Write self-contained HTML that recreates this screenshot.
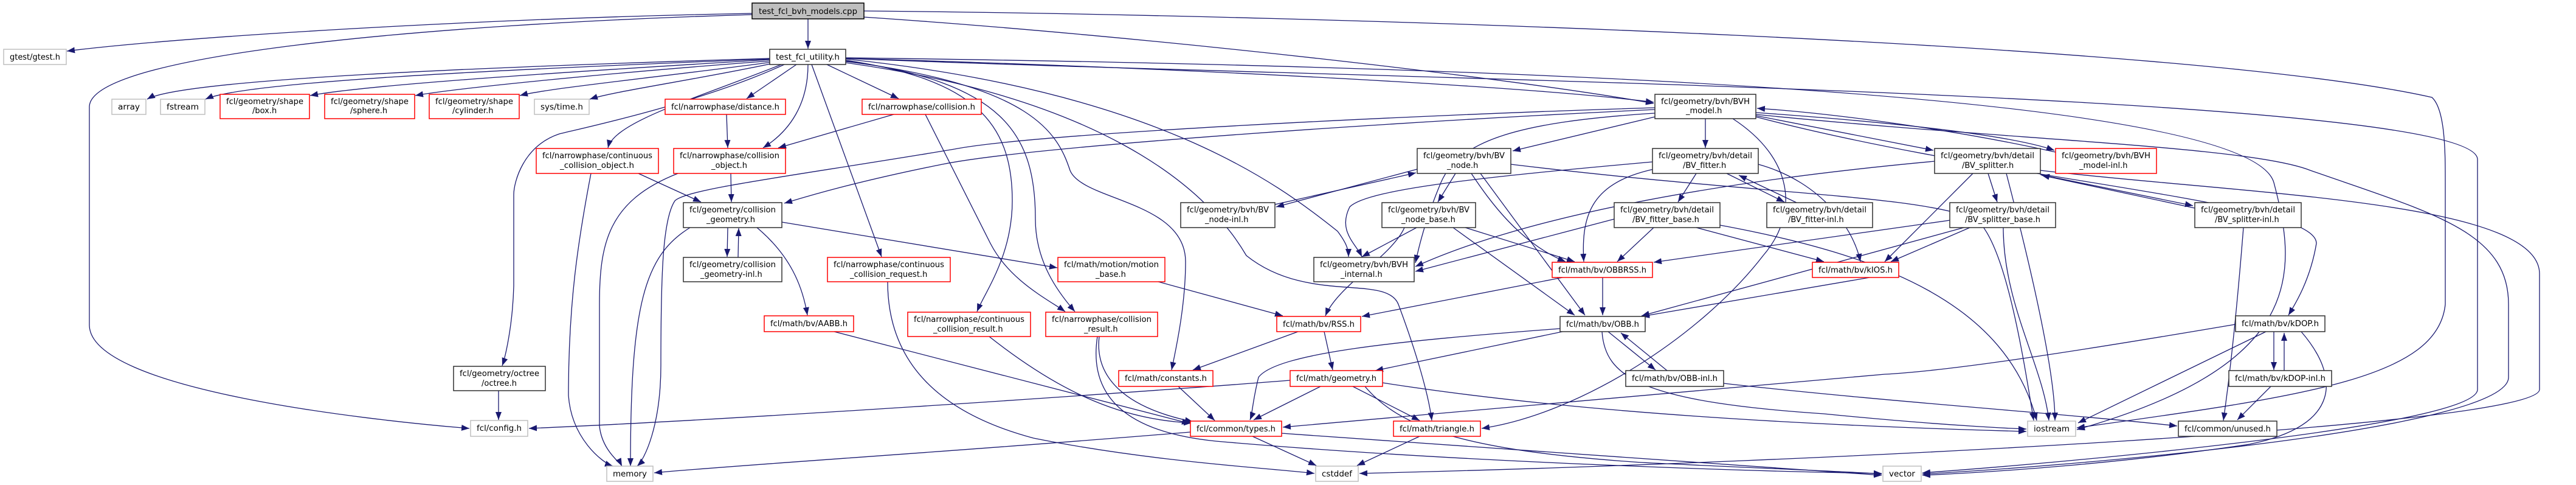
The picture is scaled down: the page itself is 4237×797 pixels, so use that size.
<!DOCTYPE html>
<html><head><meta charset="utf-8"><style>
html,body{margin:0;padding:0;background:#fff;}
svg{display:block;}
text{font-family:"DejaVu Sans","Liberation Sans",sans-serif;font-size:13px;fill:#000;}
.e{fill:none;stroke:#191970;stroke-width:1.3;marker-end:url(#a);}
.r{fill:#fff;stroke:#ff0000;stroke-width:1.5;}
.b{fill:#fff;stroke:#303030;stroke-width:1.5;}
.g{fill:#fff;stroke:#bfbfbf;stroke-width:1.5;}
</style></head><body>
<svg width="4237" height="797" viewBox="0 0 4237 797" xmlns="http://www.w3.org/2000/svg">
<defs><marker id="a" markerUnits="userSpaceOnUse" markerWidth="14" markerHeight="10" refX="13" refY="5" orient="auto"><path d="M0,0 L13,5 L0,10 z" fill="#191970"/></marker></defs>
<g>
<!-- root edges -->
<path class="e" d="M1238,22 C800,30 300,60 110,84"/>
<path class="e" d="M1238,24 C700,40 150,90 147,175 L147,535 C150,640 600,690 772,704"/>
<path class="e" d="M1329,31 L1329,80"/>
<path class="e" d="M1420,28 C1900,60 2500,130 2720,170"/>
<path class="e" d="M1420,18 C2200,25 3600,70 4000,160 C4022,180 4022,250 4022,300 L4022,500 C4010,620 3800,650 3416,703"/>
<!-- utility edges -->
<path class="e" d="M1266,96 C800,110 300,130 242,163"/>
<path class="e" d="M1266,97 C800,115 400,135 338,163"/>
<path class="e" d="M1266,98 C900,120 600,140 510,157"/>
<path class="e" d="M1268,100 C1000,120 750,145 683,157"/>
<path class="e" d="M1270,102 C1100,125 900,145 855,157"/>
<path class="e" d="M1272,104 C1150,130 1010,150 970,163"/>
<path class="e" d="M1285,106 C1150,160 1010,200 1000,243"/>
<path class="e" d="M1290,106 C1150,170 960,210 920,220 C860,240 845,300 845,320 L845,470 C843,540 830,590 826,601"/>
<path class="e" d="M1310,106 L1228,162"/>
<path class="e" d="M1329,106 C1329,170 1300,215 1255,243"/>
<path class="e" d="M1360,106 L1478,162"/>
<path class="e" d="M1335,106 L1450,422"/>
<path class="e" d="M1391,99 C1600,130 1665,200 1665,330 C1665,420 1620,480 1607,512"/>
<path class="e" d="M1391,100 C1650,135 1703,220 1703,360 C1703,430 1740,480 1768,512"/>
<path class="e" d="M1391,101 C1700,140 1740,220 1760,280 C1780,330 1950,330 1950,430 C1950,500 1935,570 1927,608"/>
<path class="e" d="M1391,103 C1800,160 1980,300 2050,420 C2150,500 2280,450 2300,500 C2330,580 2350,650 2355,691"/>
<path class="e" d="M1391,97 C1900,150 2100,300 2200,380 C2215,400 2218,410 2218,422"/>
<path class="e" d="M1391,96 C1900,110 2500,140 2720,168"/>
<path class="e" d="M1391,95 C2600,110 3700,160 3740,300 C3780,450 3790,600 3416,706"/>
<path class="e" d="M1391,96 C2200,130 4075,150 4075,262 L4075,640 C4075,700 3400,760 3162,777"/>
<!-- narrowphase / geometry -->
<path class="e" d="M972,285 C950,400 935,500 935,650 C940,720 990,760 1008,766"/>
<path class="e" d="M1115,285 C1000,330 986,400 986,500 L986,700 C990,740 1020,760 1023,766"/>
<path class="e" d="M1135,374 C1060,420 1037,500 1037,766"/>
<path class="e" d="M2722,177 C2300,190 1700,220 1570,245 C1300,290 1130,310 1110,330 C1090,360 1087,450 1087,600 C1087,700 1060,755 1048,766"/>
<path class="e" d="M2722,180 C2300,200 1700,240 1550,270 C1400,300 1320,325 1290,334"/>
<path class="e" d="M820,642 L820,690"/>
<path class="e" d="M2122,625 C1800,650 1200,690 870,704"/>
<path class="e" d="M1958,710 C1600,740 1200,765 1076,777"/>
<path class="e" d="M1460,463 C1460,600 1550,680 1700,720 C1900,760 2100,770 2162,778"/>
<path class="e" d="M1372,545 L1957,696"/>
<path class="e" d="M1627,553 C1750,650 1850,690 1960,695"/>
<path class="e" d="M1808,553 C1800,620 1850,670 1962,693"/>
<path class="e" d="M1805,553 C1790,650 1850,710 2000,725 C2400,760 2900,775 3095,778"/>
<path class="e" d="M1938,635 L1998,691"/>
<path class="e" d="M1905,463 L2110,519"/>
<path class="e" d="M1286,365 L1739,440"/>
<path class="e" d="M1202,285 L1203,332"/>
<path class="e" d="M1195,188 L1197,243"/>
<path class="e" d="M1470,188 L1280,243"/>
<path class="e" d="M1050,285 L1153,332"/>
<path class="e" d="M1522,188 L1629,400 C1660,460 1720,490 1752,512"/>
<path class="e" d="M1197,374 L1196,422"/>
<path class="e" d="M1214,423 L1215,375"/>
<path class="e" d="M1245,374 C1300,420 1320,470 1328,518"/>
<!-- BVH model -->
<path class="e" d="M2722,192 L2488,248"/>
<path class="e" d="M2805,195 L2805,243"/>
<path class="e" d="M2888,190 L3180,247"/>
<path class="e" d="M2888,185 C3100,200 3300,220 3379,247"/>
<path class="e" d="M3381,250 C3200,210 3000,185 2890,178"/>
<path class="e" d="M2888,192 C3300,300 3810,330 3810,400 C3800,460 3775,500 3764,518"/>
<path class="e" d="M2850,195 C2950,260 2960,350 2900,420 C2800,550 2600,680 2437,704"/>
<path class="e" d="M2888,188 C3300,230 3700,240 3800,280 C4000,350 4126,380 4126,500 L4126,620 C4126,700 3500,760 3162,779"/>
<path class="e" d="M2722,186 C2500,200 2400,230 2370,300 C2345,360 2335,400 2328,432"/>
<!-- BV node -->
<path class="e" d="M2331,278 L2099,340"/>
<path class="e" d="M2097,336 L2329,284"/>
<path class="e" d="M2394,285 L2365,332"/>
<path class="e" d="M2420,285 C2450,330 2500,400 2575,430"/>
<path class="e" d="M2435,285 L2607,518"/>
<path class="e" d="M2485,270 C2900,320 3150,320 3250,360 C3300,400 3330,600 3345,691"/>
<path class="e" d="M2330,374 L2240,422"/>
<path class="e" d="M2390,374 L2590,518"/>
<path class="e" d="M2310,374 C2290,420 2200,470 2180,519"/>
<path class="e" d="M2410,374 L2590,430"/>
<!-- BV fitter -->
<path class="e" d="M2790,285 L2760,332"/>
<path class="e" d="M2840,285 L2935,332"/>
<path class="e" d="M2955,333 L2860,288"/>
<path class="e" d="M2718,266 C2450,290 2250,310 2220,340 C2200,380 2230,400 2240,422"/>
<path class="e" d="M2720,278 C2620,300 2600,350 2605,430"/>
<path class="e" d="M2892,270 C3000,300 3050,380 3060,430"/>
<path class="e" d="M2720,374 L2660,430"/>
<path class="e" d="M2790,374 L3000,430"/>
<path class="e" d="M2655,360 L2328,446"/>
<path class="e" d="M2829,370 C3100,420 3300,500 3350,691"/>
<!-- BV splitter -->
<path class="e" d="M3270,285 L3285,332"/>
<path class="e" d="M3356,287 L3607,338"/>
<path class="e" d="M3610,342 L3358,288"/>
<path class="e" d="M3245,285 L3100,430"/>
<path class="e" d="M3182,265 C2800,300 2500,360 2328,438"/>
<path class="e" d="M3300,285 C3330,400 3380,600 3380,691"/>
<path class="e" d="M3356,280 C3700,320 4177,330 4177,450 L4177,640 C4177,700 3000,760 2236,778"/>
<path class="e" d="M3207,362 L2720,431"/>
<path class="e" d="M3240,374 L3110,430"/>
<path class="e" d="M3230,374 L2700,519"/>
<path class="e" d="M3295,374 C3295,500 3360,600 3370,691"/>
<path class="e" d="M3690,374 C3680,500 3670,600 3657,691"/>
<!-- bv -->
<path class="e" d="M2636,456 L2636,518"/>
<path class="e" d="M2570,456 L2240,520"/>
<path class="e" d="M3075,456 L2700,520"/>
<path class="e" d="M2645,545 L2723,608"/>
<path class="e" d="M2742,609 L2666,547"/>
<path class="e" d="M2570,545 L2262,609"/>
<path class="e" d="M2566,540 C2300,560 2100,580 2070,620 C2060,660 2060,680 2056,690"/>
<path class="e" d="M2635,545 C2640,620 2700,660 3000,680 C3200,700 3330,705 3333,705"/>
<path class="e" d="M2835,630 C3100,660 3400,680 3581,700"/>
<path class="e" d="M2178,545 L2192,608"/>
<path class="e" d="M2135,545 L1962,608"/>
<path class="e" d="M2172,635 L2062,690"/>
<path class="e" d="M2225,635 L2335,691"/>
<path class="e" d="M2245,635 C2300,700 2400,740 2700,760 C2900,770 3050,775 3095,779"/>
<path class="e" d="M2274,629 C2600,680 3000,700 3333,709"/>
<path class="e" d="M2060,717 L2165,765"/>
<path class="e" d="M2108,712 C2500,740 2900,770 3095,781"/>
<path class="e" d="M2335,717 L2232,765"/>
<path class="e" d="M3740,545 L3740,608"/>
<path class="e" d="M3757,609 L3757,547"/>
<path class="e" d="M3727,545 L3418,695"/>
<path class="e" d="M3735,635 L3680,690"/>
<path class="e" d="M3677,533 C3400,580 3200,610 3100,615 L2110,702"/>
<path class="e" d="M3785,545 C3850,620 3850,700 3700,730 C3500,760 3300,775 3162,781"/>
</g>
<g>
<rect x="1237" y="5" width="184" height="26" fill="#bfbfbf" stroke="#000" stroke-width="1.5"/>
<text x="1248" y="23" textLength="162" lengthAdjust="spacingAndGlyphs">test_fcl_bvh_models.cpp</text>
<rect class="b" x="1266" y="81" width="125" height="25"/><text x="1276" y="98" textLength="105" lengthAdjust="spacingAndGlyphs">test_fcl_utility.h</text>
<rect class="g" x="6" y="81" width="103" height="25"/><text x="16" y="98" textLength="83" lengthAdjust="spacingAndGlyphs">gtest/gtest.h</text>
<rect class="g" x="184" y="163" width="56" height="25"/><text x="194" y="180" textLength="36" lengthAdjust="spacingAndGlyphs">array</text>
<rect class="g" x="264" y="163" width="73" height="25"/><text x="274" y="180" textLength="53" lengthAdjust="spacingAndGlyphs">fstream</text>
<rect class="r" x="362" y="155" width="147" height="40"/><text x="372" y="171" textLength="127" lengthAdjust="spacingAndGlyphs">fcl/geometry/shape</text><text x="415" y="186">/box.h</text>
<rect class="r" x="534" y="155" width="148" height="40"/><text x="544" y="171" textLength="128" lengthAdjust="spacingAndGlyphs">fcl/geometry/shape</text><text x="576" y="186">/sphere.h</text>
<rect class="r" x="706" y="155" width="148" height="40"/><text x="716" y="171" textLength="128" lengthAdjust="spacingAndGlyphs">fcl/geometry/shape</text><text x="744" y="186">/cylinder.h</text>
<rect class="g" x="879" y="163" width="90" height="25"/><text x="889" y="180" textLength="70" lengthAdjust="spacingAndGlyphs">sys/time.h</text>
<rect class="r" x="1094" y="163" width="198" height="25"/><text x="1104" y="180" textLength="178" lengthAdjust="spacingAndGlyphs">fcl/narrowphase/distance.h</text>
<rect class="r" x="1418" y="163" width="196" height="25"/><text x="1428" y="180" textLength="176" lengthAdjust="spacingAndGlyphs">fcl/narrowphase/collision.h</text>
<rect class="b" x="2722" y="155" width="166" height="40"/><text x="2732" y="171" textLength="146" lengthAdjust="spacingAndGlyphs">fcl/geometry/bvh/BVH</text><text x="2773" y="186">_model.h</text>
<rect class="r" x="882" y="244" width="201" height="41"/><text x="892" y="260" textLength="181" lengthAdjust="spacingAndGlyphs">fcl/narrowphase/continuous</text><text x="921" y="276" textLength="122" lengthAdjust="spacingAndGlyphs">_collision_object.h</text>
<rect class="r" x="1108" y="244" width="184" height="41"/><text x="1118" y="260" textLength="164" lengthAdjust="spacingAndGlyphs">fcl/narrowphase/collision</text><text x="1170" y="276">_object.h</text>
<rect class="b" x="2331" y="244" width="154" height="41"/><text x="2341" y="260" textLength="134" lengthAdjust="spacingAndGlyphs">fcl/geometry/bvh/BV</text><text x="2380" y="276">_node.h</text>
<rect class="b" x="2718" y="244" width="174" height="41"/><text x="2728" y="260" textLength="154" lengthAdjust="spacingAndGlyphs">fcl/geometry/bvh/detail</text><text x="2768" y="276">/BV_fitter.h</text>
<rect class="b" x="3182" y="244" width="174" height="41"/><text x="3192" y="260" textLength="154" lengthAdjust="spacingAndGlyphs">fcl/geometry/bvh/detail</text><text x="3227" y="276">/BV_splitter.h</text>
<rect class="r" x="3381" y="244" width="166" height="41"/><text x="3391" y="260" textLength="146" lengthAdjust="spacingAndGlyphs">fcl/geometry/bvh/BVH</text><text x="3420" y="276">_model-inl.h</text>
<rect class="b" x="1124" y="333" width="162" height="41"/><text x="1134" y="349" textLength="142" lengthAdjust="spacingAndGlyphs">fcl/geometry/collision</text><text x="1162" y="365">_geometry.h</text>
<rect class="b" x="1942" y="333" width="155" height="41"/><text x="1952" y="349" textLength="135" lengthAdjust="spacingAndGlyphs">fcl/geometry/bvh/BV</text><text x="1982" y="365">_node-inl.h</text>
<rect class="b" x="2273" y="333" width="154" height="41"/><text x="2283" y="349" textLength="134" lengthAdjust="spacingAndGlyphs">fcl/geometry/bvh/BV</text><text x="2305" y="365">_node_base.h</text>
<rect class="b" x="2655" y="333" width="174" height="41"/><text x="2665" y="349" textLength="154" lengthAdjust="spacingAndGlyphs">fcl/geometry/bvh/detail</text><text x="2685" y="365">/BV_fitter_base.h</text>
<rect class="b" x="2906" y="333" width="174" height="41"/><text x="2916" y="349" textLength="154" lengthAdjust="spacingAndGlyphs">fcl/geometry/bvh/detail</text><text x="2941" y="365">/BV_fitter-inl.h</text>
<rect class="b" x="3207" y="333" width="174" height="41"/><text x="3217" y="349" textLength="154" lengthAdjust="spacingAndGlyphs">fcl/geometry/bvh/detail</text><text x="3232" y="365">/BV_splitter_base.h</text>
<rect class="b" x="3610" y="333" width="175" height="41"/><text x="3620" y="349" textLength="155" lengthAdjust="spacingAndGlyphs">fcl/geometry/bvh/detail</text><text x="3643" y="365">/BV_splitter-inl.h</text>
<rect class="b" x="1124" y="423" width="162" height="40"/><text x="1134" y="439" textLength="142" lengthAdjust="spacingAndGlyphs">fcl/geometry/collision</text><text x="1152" y="455">_geometry-inl.h</text>
<rect class="r" x="1361" y="423" width="202" height="40"/><text x="1371" y="439" textLength="182" lengthAdjust="spacingAndGlyphs">fcl/narrowphase/continuous</text><text x="1398" y="455">_collision_request.h</text>
<rect class="r" x="1740" y="423" width="176" height="40"/><text x="1750" y="439" textLength="156" lengthAdjust="spacingAndGlyphs">fcl/math/motion/motion</text><text x="1802" y="455">_base.h</text>
<rect class="b" x="2161" y="423" width="165" height="40"/><text x="2171" y="439" textLength="145" lengthAdjust="spacingAndGlyphs">fcl/geometry/bvh/BVH</text><text x="2205" y="455">_internal.h</text>
<rect class="r" x="2553" y="431" width="165" height="25"/><text x="2563" y="448" textLength="145" lengthAdjust="spacingAndGlyphs">fcl/math/bv/OBBRSS.h</text>
<rect class="r" x="2981" y="431" width="142" height="25"/><text x="2991" y="448" textLength="122" lengthAdjust="spacingAndGlyphs">fcl/math/bv/kIOS.h</text>
<rect class="r" x="1257" y="519" width="147" height="26"/><text x="1267" y="536" textLength="127" lengthAdjust="spacingAndGlyphs">fcl/math/bv/AABB.h</text>
<rect class="r" x="1493" y="513" width="202" height="40"/><text x="1503" y="529" textLength="182" lengthAdjust="spacingAndGlyphs">fcl/narrowphase/continuous</text><text x="1535" y="545">_collision_result.h</text>
<rect class="r" x="1720" y="513" width="184" height="40"/><text x="1730" y="529" textLength="164" lengthAdjust="spacingAndGlyphs">fcl/narrowphase/collision</text><text x="1783" y="545">_result.h</text>
<rect class="r" x="2100" y="520" width="138" height="25"/><text x="2110" y="537" textLength="118" lengthAdjust="spacingAndGlyphs">fcl/math/bv/RSS.h</text>
<rect class="b" x="2566" y="520" width="140" height="25"/><text x="2576" y="537" textLength="120" lengthAdjust="spacingAndGlyphs">fcl/math/bv/OBB.h</text>
<rect class="b" x="3677" y="519" width="147" height="26"/><text x="3687" y="536" textLength="127" lengthAdjust="spacingAndGlyphs">fcl/math/bv/kDOP.h</text>
<rect class="b" x="746" y="602" width="151" height="40"/><text x="756" y="618" textLength="131" lengthAdjust="spacingAndGlyphs">fcl/geometry/octree</text><text x="792" y="634">/octree.h</text>
<rect class="r" x="1840" y="609" width="155" height="26"/><text x="1850" y="626" textLength="135" lengthAdjust="spacingAndGlyphs">fcl/math/constants.h</text>
<rect class="r" x="2122" y="609" width="152" height="26"/><text x="2132" y="626" textLength="132" lengthAdjust="spacingAndGlyphs">fcl/math/geometry.h</text>
<rect class="b" x="2674" y="609" width="161" height="26"/><text x="2684" y="626" textLength="141" lengthAdjust="spacingAndGlyphs">fcl/math/bv/OBB-inl.h</text>
<rect class="b" x="3666" y="609" width="169" height="26"/><text x="3676" y="626" textLength="149" lengthAdjust="spacingAndGlyphs">fcl/math/bv/kDOP-inl.h</text>
<rect class="g" x="774" y="691" width="94" height="26"/><text x="784" y="708" textLength="74" lengthAdjust="spacingAndGlyphs">fcl/config.h</text>
<rect class="r" x="1958" y="692" width="150" height="25"/><text x="1968" y="709" textLength="130" lengthAdjust="spacingAndGlyphs">fcl/common/types.h</text>
<rect class="r" x="2292" y="692" width="143" height="25"/><text x="2302" y="709" textLength="123" lengthAdjust="spacingAndGlyphs">fcl/math/triangle.h</text>
<rect class="g" x="3335" y="692" width="79" height="25"/><text x="3345" y="709" textLength="59" lengthAdjust="spacingAndGlyphs">iostream</text>
<rect class="b" x="3583" y="692" width="162" height="25"/><text x="3593" y="709" textLength="142" lengthAdjust="spacingAndGlyphs">fcl/common/unused.h</text>
<rect class="g" x="998" y="766" width="76" height="25"/><text x="1008" y="783" textLength="56" lengthAdjust="spacingAndGlyphs">memory</text>
<rect class="g" x="2164" y="766" width="70" height="25"/><text x="2174" y="783" textLength="50" lengthAdjust="spacingAndGlyphs">cstddef</text>
<rect class="g" x="3097" y="766" width="63" height="25"/><text x="3107" y="783" textLength="43" lengthAdjust="spacingAndGlyphs">vector</text>
</g>
</svg>
</body></html>
